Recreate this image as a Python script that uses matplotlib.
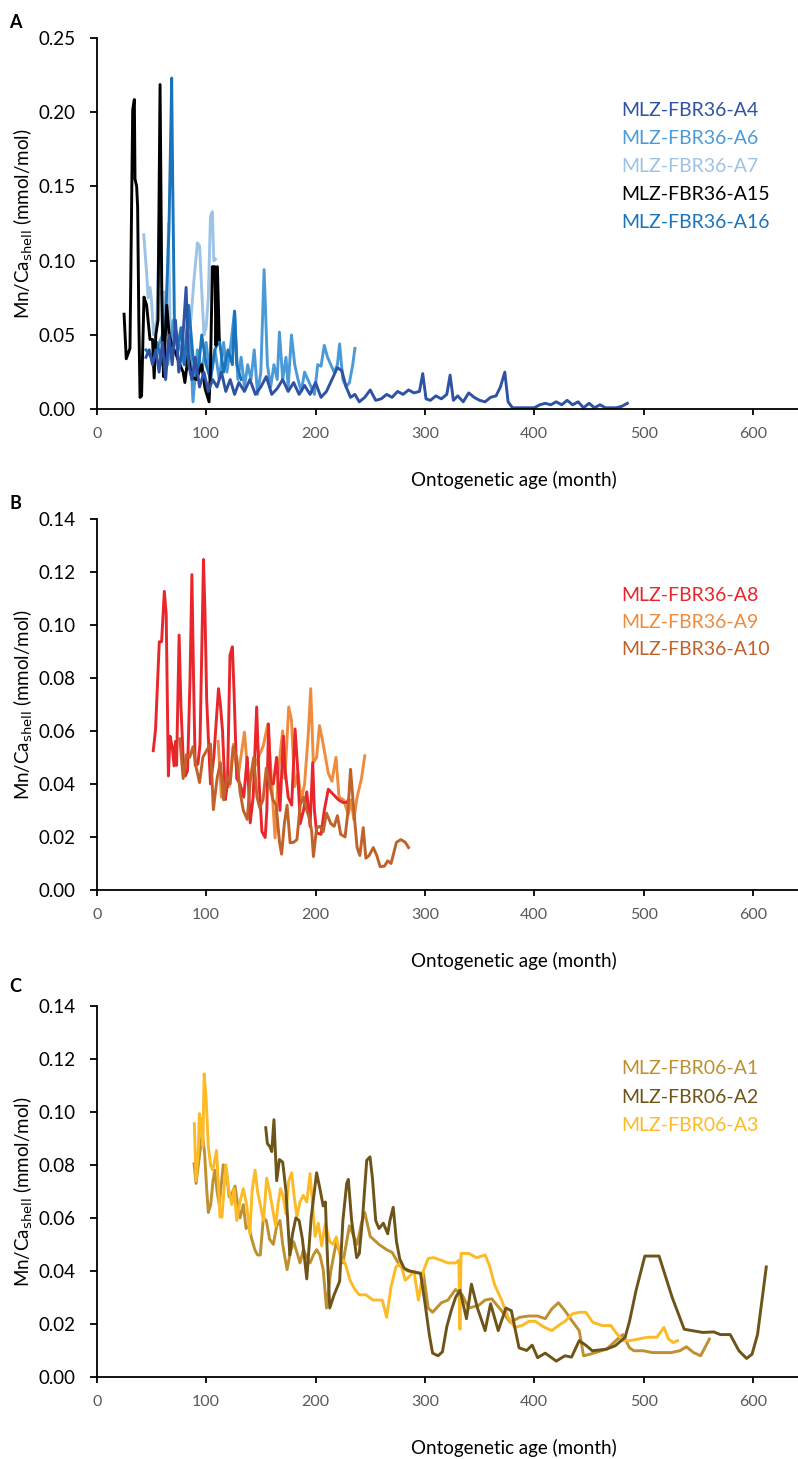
import matplotlib.pyplot as plt
import numpy as np

# ---- panel A: MLZ-FBR36 (A4, A6, A7, A15, A16) ----
a15_x = [25, 27, 30.4, 32.9, 34.4, 35, 36.5, 37.4, 38.5, 39.6, 41, 43.2, 45.6, 48.7, 51, 52.5, 54, 56, 57.9, 59.5,
         61, 64, 66.3, 69, 73, 76, 79, 80.6, 83.6, 86.7, 91, 96, 99, 102.7, 104, 105.7, 108, 109, 110.3, 112]
a15_y = [0.064, 0.034, 0.041, 0.2017, 0.2085, 0.155, 0.15, 0.136, 0.06, 0.008, 0.009, 0.0755, 0.07, 0.047, 0.047,
         0.021, 0.05, 0.06, 0.2186, 0.077, 0.022, 0.07, 0.05, 0.043, 0.036, 0.03, 0.025, 0.018, 0.036, 0.022,
         0.02, 0.03, 0.014, 0.005, 0.028, 0.096, 0.096, 0.043, 0.096, 0.047]

a7_x = [43, 45.6, 47, 48.7, 50, 52, 55, 58, 60, 62, 64, 65.5, 67, 70, 74, 78, 82, 86, 89, 92,
        94, 96, 98, 100, 102, 104, 105.7, 107, 108.5]
a7_y = [0.1175, 0.092, 0.075, 0.082, 0.074, 0.05, 0.06, 0.152, 0.05, 0.079, 0.05, 0.125, 0.06, 0.05, 0.045,
        0.05, 0.04, 0.06, 0.088, 0.112, 0.11, 0.08, 0.05, 0.055, 0.075, 0.13, 0.133, 0.1, 0.101]

a16_x = [45, 50, 55, 60, 63, 66, 68, 68.5, 69.5, 71, 74, 77, 80, 84, 88, 92, 96, 100, 104, 108,
         112, 116, 120, 124, 126, 128, 132]
a16_y = [0.04, 0.035, 0.045, 0.03, 0.06, 0.12, 0.20, 0.223, 0.15, 0.06, 0.04, 0.055, 0.03, 0.07, 0.035,
         0.02, 0.05, 0.03, 0.02, 0.04, 0.047, 0.025, 0.04, 0.03, 0.066, 0.03, 0.02]

a6_x = [55, 60, 65, 70, 75, 80, 85, 88, 92, 96, 100, 104, 108, 112, 116, 119, 122, 126, 129, 132,
        135, 138, 141, 144, 147, 150, 153, 156, 159, 162, 165, 167, 170, 173, 175, 178, 181, 184, 187, 190,
        193, 196, 199, 202, 205, 208, 211, 214, 217, 220, 222, 225, 228, 231, 234, 236]
a6_y = [0.04, 0.05, 0.03, 0.06, 0.045, 0.03, 0.05, 0.005, 0.04, 0.025, 0.045, 0.02, 0.04, 0.02, 0.045,
        0.025, 0.04, 0.066, 0.02, 0.035, 0.015, 0.03, 0.02, 0.04, 0.01, 0.025, 0.094, 0.03, 0.015, 0.03,
        0.02, 0.052, 0.02, 0.035, 0.015, 0.05, 0.03, 0.02, 0.012, 0.025, 0.02, 0.015, 0.01, 0.03, 0.029,
        0.043, 0.035, 0.03, 0.025, 0.03, 0.044, 0.02, 0.015, 0.018, 0.03, 0.041]

a4_x = [45, 48, 51, 54, 57, 60, 63, 66, 69, 72, 75, 78, 81.7, 84, 87, 90, 94, 98, 102, 106,
        110, 114, 118, 122, 126, 130, 135, 140, 145, 150, 155, 160, 165, 170, 175, 180, 185, 190, 195, 200,
        205, 210, 215, 220, 224, 228, 232, 236, 240, 245, 250, 255, 260, 265, 270, 275, 280, 285, 290, 295,
        298, 301, 305, 310, 315, 320, 323, 326, 330, 335, 340, 345, 350, 355, 360, 365, 369, 373, 376, 380,
        385, 390, 395, 400, 405, 410, 415, 420, 425, 430, 435, 440, 445, 450, 455, 460, 465, 470, 475, 480, 485]
a4_y = [0.035, 0.04, 0.03, 0.04, 0.025, 0.045, 0.02, 0.05, 0.03, 0.06, 0.025, 0.04, 0.082, 0.03, 0.02,
        0.035, 0.015, 0.025, 0.012, 0.02, 0.015, 0.025, 0.012, 0.02, 0.01, 0.018, 0.012, 0.02, 0.01, 0.015,
        0.022, 0.01, 0.014, 0.02, 0.012, 0.018, 0.01, 0.016, 0.01, 0.018, 0.008, 0.012, 0.02, 0.028, 0.026,
        0.015, 0.008, 0.01, 0.005, 0.008, 0.013, 0.006, 0.007, 0.01, 0.008, 0.012, 0.01, 0.013, 0.011, 0.012,
        0.024, 0.007, 0.006, 0.009, 0.007, 0.01, 0.023, 0.006, 0.009, 0.005, 0.011, 0.008, 0.006, 0.005, 0.008,
        0.009, 0.015, 0.025, 0.005, 0.001, 0.001, 0.001, 0.001, 0.001, 0.003, 0.004, 0.003, 0.005, 0.003, 0.006,
        0.003, 0.005, 0.001, 0.004, 0.001, 0.003, 0.001, 0.001, 0.001, 0.002, 0.004]

# ---- panel B: MLZ-FBR36 (A8, A9, A10) ----
a8_x = [51.7, 53.8, 57.2, 59.3, 61.8, 63.5, 65.5, 67, 69, 70.7, 72, 73, 75.3, 77, 79, 81, 83, 85.3, 87, 88.5,
        90, 92.5, 94.4, 96, 97.6, 99, 100.5, 102, 104, 107, 111.3, 113, 115, 117.6, 119.5, 121.8, 124, 125.5, 128, 131,
        134.4, 137.6, 140.3, 143, 146.2, 148.5, 151, 154, 155.5, 157, 159, 161.5, 164.4, 167.5, 170.6, 172, 175, 178.2,
        181.3, 183.5, 186, 189, 192, 195, 197.4, 199, 201, 205, 208, 211.7, 216.3, 221, 225, 228.5, 230]
a8_y = [0.0525, 0.0607, 0.0936, 0.0936, 0.1126, 0.104, 0.043, 0.058, 0.054, 0.0468, 0.056, 0.047, 0.0961, 0.069,
        0.05, 0.043, 0.045, 0.0797, 0.1189, 0.08, 0.047, 0.0475, 0.055, 0.0898, 0.1246, 0.104, 0.072, 0.0576, 0.04,
        0.05, 0.0759, 0.07, 0.06, 0.0341, 0.04, 0.0885, 0.0917, 0.075, 0.042, 0.04, 0.035, 0.05, 0.0253, 0.035,
        0.069, 0.04, 0.022, 0.0198, 0.03, 0.0626, 0.04, 0.04, 0.05, 0.03, 0.058, 0.046, 0.035, 0.032, 0.0607,
        0.047, 0.025, 0.03, 0.037, 0.024, 0.048, 0.03, 0.0215, 0.021, 0.03, 0.038, 0.036, 0.034, 0.033, 0.033, 0.034]

a9_x = [111, 114, 118, 121, 125, 129, 135, 139, 143, 147.8, 152.3, 156.4, 160, 163, 166, 170, 172, 175.5, 178, 181,
        184, 187, 190, 193.5, 195.6, 198, 201, 203.6, 207, 211.7, 215, 218.7, 221.5, 225.6, 230, 232.5, 235, 238,
        242, 245]
a9_y = [0.056, 0.035, 0.04, 0.039, 0.055, 0.042, 0.0595, 0.04, 0.045, 0.05, 0.0544, 0.0626, 0.04, 0.0196, 0.045,
        0.06, 0.042, 0.069, 0.064, 0.039, 0.044, 0.034, 0.04, 0.0595, 0.0759, 0.048, 0.05, 0.062, 0.055, 0.044,
        0.041, 0.05, 0.035, 0.034, 0.0285, 0.034, 0.0265, 0.035, 0.042, 0.0506]

a10_x = [76, 79, 82, 85, 88, 91, 94, 97, 101, 104, 106.6, 110, 113, 116, 119, 122, 124.8, 128, 131, 134,
         137.6, 140.5, 143.5, 146.5, 149, 152, 155, 158, 161, 164, 167, 169, 171.5, 174, 176.8, 180, 183, 186, 189,
         192, 194.5, 196.5, 198.1, 201, 204, 207, 210, 214, 217, 220, 223, 227, 229.5, 232, 235, 238, 240.5, 243.6,
         246, 249, 252.8, 256, 259, 263, 266, 269, 274, 278, 282, 285]
a10_y = [0.057, 0.042, 0.051, 0.05, 0.054, 0.046, 0.0405, 0.05, 0.053, 0.055, 0.0303, 0.042, 0.048, 0.034, 0.043,
         0.04, 0.054, 0.05, 0.037, 0.03, 0.0266, 0.042, 0.05, 0.035, 0.031, 0.034, 0.046, 0.04, 0.034, 0.032,
         0.0183, 0.0135, 0.025, 0.032, 0.0178, 0.018, 0.019, 0.032, 0.035, 0.03, 0.027, 0.022, 0.0126, 0.0235,
         0.024, 0.022, 0.029, 0.025, 0.024, 0.028, 0.021, 0.02, 0.029, 0.0455, 0.03, 0.016, 0.013, 0.0235, 0.012,
         0.013, 0.016, 0.013, 0.0088, 0.009, 0.011, 0.01, 0.018, 0.019, 0.018, 0.016]

# ---- panel C: MLZ-FBR06 (A1, A2, A3) ----
c1_x = [89, 90.8, 93.5, 96.4, 98.5, 100.5, 102, 104.2, 106.3, 108, 110, 112, 115.7, 118.5, 121, 123.5, 126.4,
        128.5, 131, 134, 136.5, 139, 141.7, 144.5, 147, 149.5, 152.3, 155, 158, 161.4, 164.5, 167.5, 170, 172,
        174, 177, 180, 183, 185.8, 189, 192, 195, 198, 201, 204, 207, 210, 214, 219, 225, 231, 238, 242, 245,
        250, 258, 265, 270, 277, 284, 290, 298.6, 303, 307, 315, 321, 328, 334, 340, 349, 355, 361, 370, 378,
        386.5, 395, 403, 410, 416, 422, 428, 434.7, 441, 445, 451, 458, 466, 474.5, 481, 487, 491, 499.6, 508,
        516, 525, 533, 539, 545.6, 552, 560]
c1_y = [0.0804, 0.073, 0.082, 0.0917, 0.085, 0.071, 0.062, 0.065, 0.074, 0.078, 0.07, 0.065, 0.08, 0.078, 0.068,
        0.069, 0.072, 0.066, 0.06, 0.065, 0.056, 0.057, 0.052, 0.048, 0.046, 0.046, 0.06, 0.059, 0.052, 0.05,
        0.057, 0.059, 0.05, 0.045, 0.0405, 0.047, 0.051, 0.047, 0.043, 0.048, 0.045, 0.043, 0.046, 0.048, 0.046,
        0.0405, 0.026, 0.04, 0.051, 0.043, 0.057, 0.05, 0.058, 0.062, 0.053, 0.05, 0.048, 0.047, 0.042, 0.04,
        0.0396, 0.039, 0.026, 0.0244, 0.028, 0.029, 0.033, 0.031, 0.026, 0.027, 0.029, 0.0295, 0.025, 0.0206,
        0.0225, 0.023, 0.023, 0.022, 0.0257, 0.028, 0.025, 0.021, 0.0175, 0.008, 0.0086, 0.0095, 0.0105, 0.0137,
        0.016, 0.011, 0.0099, 0.0099, 0.0092, 0.0092, 0.0092, 0.0099, 0.0114, 0.0092, 0.008, 0.0143]

c3_x = [89.2, 90.8, 93, 93.8, 95.5, 97, 98.2, 100, 102, 104, 106, 108, 109.5, 111, 112.7, 114.5, 116, 118, 120.5,
        123.4, 125.5, 128, 130.9, 134, 137, 140, 142, 144.7, 147, 150, 152.5, 155.3, 158, 160.5, 163.5, 166, 168,
        170.5, 173, 175.5, 178.2, 180.5, 183, 185.8, 188.8, 192, 195, 197.5, 199.6, 202.5, 205.6, 209, 213, 216,
        219, 223, 227, 231.5, 236, 240, 246, 252.5, 261, 265, 269, 273.5, 277.6, 282, 286, 290, 294, 298.6, 303,
        308, 315, 321, 328, 331, 332, 333, 340, 347, 355, 359, 363.5, 370, 376, 382, 388.6, 395, 401, 408, 416,
        422, 428, 434.7, 441, 447, 453.5, 462, 470, 474.5, 481, 487, 495, 503.5, 512, 518.5, 522.6, 527, 531]
c3_y = [0.0955, 0.074, 0.0867, 0.0993, 0.096, 0.087, 0.1143, 0.105, 0.087, 0.08, 0.078, 0.082, 0.0854, 0.074,
        0.0603, 0.0603, 0.069, 0.08, 0.071, 0.065, 0.071, 0.059, 0.066, 0.071, 0.065, 0.054, 0.07, 0.078, 0.07,
        0.064, 0.059, 0.075, 0.07, 0.064, 0.057, 0.066, 0.071, 0.068, 0.0615, 0.074, 0.077, 0.068, 0.0606, 0.066,
        0.0685, 0.066, 0.0767, 0.064, 0.053, 0.058, 0.0495, 0.058, 0.051, 0.05, 0.0528, 0.045, 0.043, 0.0365,
        0.033, 0.031, 0.031, 0.029, 0.029, 0.0225, 0.034, 0.0415, 0.043, 0.0365, 0.038, 0.04, 0.029, 0.04,
        0.0447, 0.045, 0.044, 0.043, 0.043, 0.044, 0.018, 0.0466, 0.0466, 0.045, 0.046, 0.042, 0.035, 0.029,
        0.0225, 0.0187, 0.0194, 0.021, 0.021, 0.019, 0.0175, 0.0194, 0.021, 0.0238, 0.0244, 0.0244, 0.0206,
        0.0194, 0.0194, 0.0168, 0.0137, 0.0137, 0.0143, 0.015, 0.015, 0.0187, 0.0143, 0.013, 0.0137]

c2_x = [154.5, 156, 158, 160, 162, 164.5, 167, 170, 173, 176.5, 179, 182, 185, 188, 192, 196, 201, 204, 207, 209,
        211, 213, 217, 222, 225, 228.5, 230, 233, 237.6, 240, 243, 246.8, 249.8, 252, 255, 258, 262, 266, 268, 271,
        274, 277, 281, 286, 291, 296, 300, 304, 307, 312, 316, 320, 324, 328, 332, 338, 342.5, 348, 355, 360,
        367, 374, 379, 386, 393, 398, 403, 410, 415, 420, 428, 434, 441, 447, 453, 466, 474, 483, 487, 493,
        501, 514, 526, 537, 554, 564, 570, 579, 587, 594, 599, 604, 612]
c2_y = [0.094, 0.088, 0.087, 0.085, 0.097, 0.074, 0.082, 0.081, 0.07, 0.046, 0.054, 0.06, 0.059, 0.052, 0.037,
        0.06, 0.077, 0.071, 0.0645, 0.066, 0.044, 0.026, 0.031, 0.036, 0.059, 0.073, 0.0745, 0.059, 0.045, 0.0465,
        0.06, 0.0817, 0.083, 0.075, 0.059, 0.056, 0.058, 0.054, 0.059, 0.064, 0.051, 0.0445, 0.041, 0.04, 0.0395,
        0.039, 0.028, 0.016, 0.009, 0.008, 0.0095, 0.019, 0.025, 0.03, 0.0327, 0.022, 0.035, 0.026, 0.0175,
        0.0276, 0.0175, 0.026, 0.025, 0.011, 0.01, 0.012, 0.0073, 0.009, 0.0075, 0.006, 0.008, 0.0075, 0.0137,
        0.012, 0.0099, 0.0105, 0.0118, 0.015, 0.021, 0.0327, 0.0456, 0.0456, 0.03, 0.018, 0.0168, 0.017, 0.016,
        0.016, 0.0099, 0.007, 0.0086, 0.016, 0.0415]

x_ticks = [0, 100, 200, 300, 400, 500, 600]

plt.rcParams["font.family"] = ["Lato", "DejaVu Sans"]

fig = plt.figure(figsize=(7.98, 14.59), dpi=100)


def make_panel(bottom, ymax, ystep, series):
    ax = fig.add_axes([0.1212, bottom, 0.8788, 0.2545])
    for xs, ys, color in series:
        ax.plot(xs, ys, color=color, lw=2.1, solid_joinstyle="round")
    ax.set_xlim(0, 641)
    ax.set_ylim(0, ymax)
    ax.set_xticks(x_ticks)
    ax.set_yticks(np.arange(0, ymax + ystep / 2, ystep))
    ax.yaxis.set_major_formatter(plt.FormatStrFormatter("%.2f"))
    for side in ("top", "right"):
        ax.spines[side].set_visible(False)
    for side in ("left", "bottom"):
        ax.spines[side].set_linewidth(1.3)
    ax.tick_params(axis="y", direction="out", length=5, width=1.3, pad=10, labelsize=13.5, labelcolor="black")
    ax.tick_params(axis="x", direction="out", length=4, width=1.3, pad=9, labelsize=11.5, labelcolor="#595959")
    ax.set_xlabel("Ontogenetic age (month)", fontsize=13.5)
    ax.xaxis.set_label_coords(0.595, -0.19)
    ax.xaxis.label.set_va("center")
    ax.set_ylabel(r"Mn/Ca$_{\rm shell}$ (mmol/mol)", fontsize=13.5)
    ax.yaxis.set_label_coords(-0.105, 0.5)
    ax.yaxis.label.set_va("center")
    return ax


def legend_text(ax, names_colors, y0, dy):
    # coloured sample names instead of a legend box
    for i, (name, color) in enumerate(names_colors):
        ax.text(0.7476, y0 - i * dy, name, color=color, fontsize=14, transform=ax.transAxes,
                ha="left", va="center")


# panel A
colA = {"A4": "#2E52A4", "A6": "#4B9AD8", "A7": "#9DC3E6", "A15": "#000000", "A16": "#1A74BC"}
axA = make_panel(0.7195, 0.25, 0.05,
                 [(a7_x, a7_y, colA["A7"]),
                  (a6_x, a6_y, colA["A6"]),
                  (a16_x, a16_y, colA["A16"]),
                  (a15_x, a15_y, colA["A15"]),
                  (a4_x, a4_y, colA["A4"])])
legend_text(axA, [("MLZ-FBR36-A4", colA["A4"]), ("MLZ-FBR36-A6", colA["A6"]),
                  ("MLZ-FBR36-A7", colA["A7"]), ("MLZ-FBR36-A15", colA["A15"]),
                  ("MLZ-FBR36-A16", colA["A16"])], 0.805, 0.0755)

# panel B
colB = {"A8": "#E8262B", "A9": "#F08A3C", "A10": "#C0622A"}
axB = make_panel(0.3900, 0.14, 0.02,
                 [(a9_x, a9_y, colB["A9"]),
                  (a8_x, a8_y, colB["A8"]),
                  (a10_x, a10_y, colB["A10"])])
legend_text(axB, [("MLZ-FBR36-A8", colB["A8"]), ("MLZ-FBR36-A9", colB["A9"]),
                  ("MLZ-FBR36-A10", colB["A10"])], 0.793, 0.073)

# panel C
colC = {"A1": "#BF902F", "A2": "#6E5418", "A3": "#FDBA27"}
axC = make_panel(0.0562, 0.14, 0.02,
                 [(c1_x, c1_y, colC["A1"]),
                  (c3_x, c3_y, colC["A3"]),
                  (c2_x, c2_y, colC["A2"])])
legend_text(axC, [("MLZ-FBR06-A1", colC["A1"]), ("MLZ-FBR06-A2", colC["A2"]),
                  ("MLZ-FBR06-A3", colC["A3"])], 0.83, 0.0765)

for letter, ypix in (("A", 23), ("B", 503), ("C", 987)):
    fig.text(0.012, 1 - ypix / 1459, letter, fontsize=13, fontweight="bold", va="center", ha="left")

fig.savefig("out.png", dpi=100)
